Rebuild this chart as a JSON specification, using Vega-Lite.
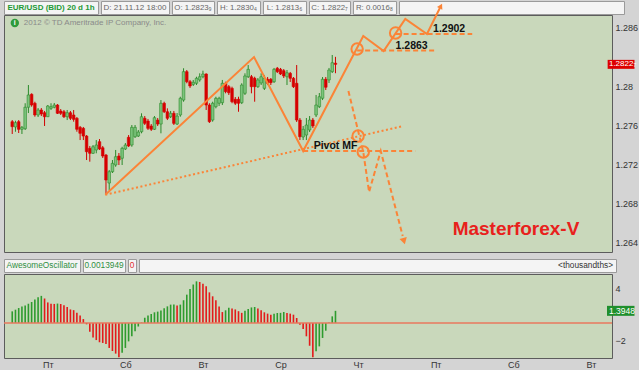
{
"$schema": "https://vega.github.io/schema/vega-lite/v6.json",
"background": "#d4d4d4",
"padding": {"left": 2, "top": 0, "right": 0, "bottom": 0},
"spacing": 5,
"config": {
  "view": {"stroke": "#5c5c5c", "strokeWidth": 1, "fill": "#c9d8bb"},
  "font": "Liberation Sans",
  "axis": {"labelFont": "Liberation Sans", "labelFontSize": 9, "labelColor": "#333333", "grid": false, "domain": false, "ticks": false}
},
"datasets": {
  "candles": [
    {"n":1,"o":1.27639,"h":1.27656,"l":1.27513,"c":1.27588},
    {"n":2,"o":1.27585,"h":1.27649,"l":1.27536,"c":1.27629},
    {"n":3,"o":1.27639,"h":1.27656,"l":1.27523,"c":1.27561},
    {"n":4,"o":1.27561,"h":1.27595,"l":1.27513,"c":1.27581},
    {"n":5,"o":1.27567,"h":1.27828,"l":1.27554,"c":1.27787},
    {"n":6,"o":1.27787,"h":1.28015,"l":1.27728,"c":1.27913},
    {"n":7,"o":1.2792,"h":1.2793,"l":1.27793,"c":1.2781},
    {"n":8,"o":1.27828,"h":1.27844,"l":1.2769,"c":1.27708},
    {"n":9,"o":1.27708,"h":1.27779,"l":1.27687,"c":1.27759},
    {"n":10,"o":1.27759,"h":1.27779,"l":1.27697,"c":1.27718},
    {"n":11,"o":1.27731,"h":1.27749,"l":1.27595,"c":1.2769},
    {"n":12,"o":1.2769,"h":1.2781,"l":1.27687,"c":1.278},
    {"n":13,"o":1.27776,"h":1.27828,"l":1.27759,"c":1.27793},
    {"n":14,"o":1.27787,"h":1.27831,"l":1.27776,"c":1.2781},
    {"n":15,"o":1.2781,"h":1.2782,"l":1.27718,"c":1.27725},
    {"n":16,"o":1.27749,"h":1.27769,"l":1.27708,"c":1.27725},
    {"n":17,"o":1.27741,"h":1.27759,"l":1.27677,"c":1.2769},
    {"n":18,"o":1.2769,"h":1.27759,"l":1.27656,"c":1.27731},
    {"n":19,"o":1.27731,"h":1.27749,"l":1.27656,"c":1.27674},
    {"n":20,"o":1.27708,"h":1.27759,"l":1.27639,"c":1.27663},
    {"n":21,"o":1.27674,"h":1.27687,"l":1.27536,"c":1.27561},
    {"n":22,"o":1.27581,"h":1.27595,"l":1.27451,"c":1.2752},
    {"n":23,"o":1.27571,"h":1.27585,"l":1.27451,"c":1.27492},
    {"n":24,"o":1.27492,"h":1.27502,"l":1.27246,"c":1.27331},
    {"n":25,"o":1.27366,"h":1.2739,"l":1.27229,"c":1.27315},
    {"n":26,"o":1.27315,"h":1.274,"l":1.27308,"c":1.27382},
    {"n":27,"o":1.27349,"h":1.27451,"l":1.27315,"c":1.274},
    {"n":28,"o":1.27434,"h":1.27461,"l":1.27349,"c":1.27359},
    {"n":29,"o":1.27372,"h":1.2739,"l":1.27267,"c":1.27287},
    {"n":30,"o":1.27297,"h":1.27308,"l":1.26897,"c":1.27041},
    {"n":31,"o":1.2701,"h":1.27144,"l":1.26938,"c":1.27126},
    {"n":32,"o":1.27126,"h":1.27246,"l":1.27113,"c":1.27212},
    {"n":33,"o":1.27195,"h":1.27349,"l":1.27177,"c":1.2728},
    {"n":34,"o":1.27287,"h":1.27318,"l":1.27195,"c":1.27246},
    {"n":35,"o":1.27264,"h":1.27382,"l":1.27195,"c":1.27366},
    {"n":36,"o":1.27359,"h":1.2742,"l":1.27349,"c":1.274},
    {"n":37,"o":1.27479,"h":1.27502,"l":1.27379,"c":1.2739},
    {"n":38,"o":1.274,"h":1.27605,"l":1.27382,"c":1.27581},
    {"n":39,"o":1.27485,"h":1.27605,"l":1.27472,"c":1.27581},
    {"n":40,"o":1.27492,"h":1.27554,"l":1.27482,"c":1.27533},
    {"n":41,"o":1.27536,"h":1.27725,"l":1.2752,"c":1.2769},
    {"n":42,"o":1.27674,"h":1.27697,"l":1.27605,"c":1.27622},
    {"n":43,"o":1.27646,"h":1.27667,"l":1.27554,"c":1.27571},
    {"n":44,"o":1.27595,"h":1.27615,"l":1.27544,"c":1.27561},
    {"n":45,"o":1.27561,"h":1.27697,"l":1.27554,"c":1.2768},
    {"n":46,"o":1.27656,"h":1.27677,"l":1.27595,"c":1.27615},
    {"n":47,"o":1.27615,"h":1.27861,"l":1.2752,"c":1.27828},
    {"n":48,"o":1.27828,"h":1.27844,"l":1.27728,"c":1.27741},
    {"n":49,"o":1.27741,"h":1.27776,"l":1.27656,"c":1.27674},
    {"n":50,"o":1.2769,"h":1.27749,"l":1.27677,"c":1.27725},
    {"n":51,"o":1.27725,"h":1.27749,"l":1.27605,"c":1.27622},
    {"n":52,"o":1.27615,"h":1.27728,"l":1.27605,"c":1.27697},
    {"n":53,"o":1.27708,"h":1.27895,"l":1.2769,"c":1.27879},
    {"n":54,"o":1.27861,"h":1.28187,"l":1.27844,"c":1.28152},
    {"n":55,"o":1.28152,"h":1.28169,"l":1.28033,"c":1.28049},
    {"n":56,"o":1.28049,"h":1.28067,"l":1.27985,"c":1.28005},
    {"n":57,"o":1.28022,"h":1.28067,"l":1.28005,"c":1.28043},
    {"n":58,"o":1.28033,"h":1.281,"l":1.28015,"c":1.28084},
    {"n":59,"o":1.28067,"h":1.28135,"l":1.28049,"c":1.281},
    {"n":60,"o":1.281,"h":1.28162,"l":1.28084,"c":1.28128},
    {"n":61,"o":1.28128,"h":1.28135,"l":1.27759,"c":1.2781},
    {"n":62,"o":1.2781,"h":1.27828,"l":1.27626,"c":1.27639},
    {"n":63,"o":1.27656,"h":1.27844,"l":1.27639,"c":1.27828},
    {"n":64,"o":1.27793,"h":1.27895,"l":1.27776,"c":1.27879},
    {"n":65,"o":1.27828,"h":1.27895,"l":1.278,"c":1.27879},
    {"n":66,"o":1.27834,"h":1.28067,"l":1.2781,"c":1.28033},
    {"n":67,"o":1.28033,"h":1.28049,"l":1.2793,"c":1.27947},
    {"n":68,"o":1.27998,"h":1.28015,"l":1.27913,"c":1.27936},
    {"n":69,"o":1.27981,"h":1.27998,"l":1.27828,"c":1.27844},
    {"n":70,"o":1.27869,"h":1.27892,"l":1.2781,"c":1.27828},
    {"n":71,"o":1.27869,"h":1.27895,"l":1.27741,"c":1.27828},
    {"n":72,"o":1.27834,"h":1.28033,"l":1.2782,"c":1.28015},
    {"n":73,"o":1.2793,"h":1.28135,"l":1.27913,"c":1.28108},
    {"n":74,"o":1.281,"h":1.2822,"l":1.28087,"c":1.28176},
    {"n":75,"o":1.281,"h":1.28118,"l":1.2793,"c":1.27998},
    {"n":76,"o":1.28084,"h":1.281,"l":1.27844,"c":1.27998},
    {"n":77,"o":1.27998,"h":1.28087,"l":1.27985,"c":1.28067},
    {"n":78,"o":1.28036,"h":1.28135,"l":1.28015,"c":1.281},
    {"n":79,"o":1.27981,"h":1.28118,"l":1.27964,"c":1.28084},
    {"n":80,"o":1.28074,"h":1.28097,"l":1.28015,"c":1.28033},
    {"n":81,"o":1.28074,"h":1.28087,"l":1.28015,"c":1.28039},
    {"n":82,"o":1.28049,"h":1.2819,"l":1.28036,"c":1.28176},
    {"n":83,"o":1.28187,"h":1.282,"l":1.28138,"c":1.28152},
    {"n":84,"o":1.28176,"h":1.2819,"l":1.28118,"c":1.28128},
    {"n":85,"o":1.28162,"h":1.28179,"l":1.28087,"c":1.28108},
    {"n":86,"o":1.281,"h":1.28169,"l":1.28015,"c":1.28141},
    {"n":87,"o":1.28135,"h":1.28149,"l":1.28046,"c":1.28084},
    {"n":88,"o":1.28084,"h":1.28097,"l":1.27985,"c":1.27998},
    {"n":89,"o":1.28033,"h":1.2822,"l":1.27636,"c":1.27656},
    {"n":90,"o":1.27656,"h":1.27677,"l":1.27451,"c":1.27485},
    {"n":91,"o":1.27482,"h":1.27595,"l":1.27451,"c":1.27561},
    {"n":92,"o":1.27502,"h":1.27677,"l":1.27451,"c":1.27605},
    {"n":93,"o":1.27554,"h":1.27697,"l":1.27533,"c":1.27656},
    {"n":94,"o":1.27656,"h":1.27677,"l":1.27574,"c":1.27595},
    {"n":95,"o":1.27708,"h":1.27913,"l":1.27687,"c":1.2781},
    {"n":96,"o":1.27793,"h":1.27933,"l":1.27779,"c":1.27895},
    {"n":97,"o":1.27879,"h":1.28097,"l":1.27861,"c":1.28074},
    {"n":98,"o":1.28074,"h":1.28097,"l":1.27964,"c":1.27992},
    {"n":99,"o":1.28067,"h":1.2819,"l":1.28036,"c":1.28169},
    {"n":100,"o":1.28152,"h":1.28323,"l":1.28138,"c":1.28244},
    {"n":101,"o":1.28239,"h":1.28304,"l":1.28136,"c":1.28227}
  ],
  "ao": [
    {"n":1,"v":1.33,"d":"u"},{"n":2,"v":1.52,"d":"u"},{"n":3,"v":1.71,"d":"u"},{"n":4,"v":1.9,"d":"u"},{"n":5,"v":2.0,"d":"u"},
    {"n":6,"v":2.2,"d":"u"},{"n":7,"v":2.4,"d":"u"},{"n":8,"v":2.7,"d":"u"},{"n":9,"v":2.95,"d":"u"},{"n":10,"v":3.1,"d":"u"},
    {"n":11,"v":2.8,"d":"d"},{"n":12,"v":2.35,"d":"d"},{"n":13,"v":2.2,"d":"d"},{"n":14,"v":2.18,"d":"d"},{"n":15,"v":2.22,"d":"u"},
    {"n":16,"v":2.17,"d":"d"},{"n":17,"v":2.02,"d":"d"},{"n":18,"v":1.82,"d":"d"},{"n":19,"v":1.55,"d":"d"},{"n":20,"v":1.47,"d":"d"},
    {"n":21,"v":1.18,"d":"d"},{"n":22,"v":0.85,"d":"d"},{"n":23,"v":0.45,"d":"d"},{"n":24,"v":-0.15,"d":"d"},{"n":25,"v":-1.0,"d":"d"},
    {"n":26,"v":-1.65,"d":"d"},{"n":27,"v":-1.95,"d":"d"},{"n":28,"v":-2.2,"d":"d"},{"n":29,"v":-2.28,"d":"d"},{"n":30,"v":-2.4,"d":"d"},
    {"n":31,"v":-2.85,"d":"d"},{"n":32,"v":-3.2,"d":"d"},{"n":33,"v":-3.5,"d":"d"},{"n":34,"v":-3.9,"d":"d"},{"n":35,"v":-3.4,"d":"u"},
    {"n":36,"v":-2.85,"d":"u"},{"n":37,"v":-2.1,"d":"u"},{"n":38,"v":-1.5,"d":"u"},{"n":39,"v":-0.95,"d":"u"},{"n":40,"v":-0.4,"d":"u"},
    {"n":41,"v":0.05,"d":"u"},{"n":42,"v":0.6,"d":"u"},{"n":43,"v":0.85,"d":"u"},{"n":44,"v":1.03,"d":"u"},{"n":45,"v":1.22,"d":"u"},
    {"n":46,"v":1.3,"d":"u"},{"n":47,"v":1.42,"d":"u"},{"n":48,"v":1.7,"d":"u"},{"n":49,"v":1.9,"d":"u"},{"n":50,"v":2.1,"d":"u"},
    {"n":51,"v":2.12,"d":"u"},{"n":52,"v":2.0,"d":"d"},{"n":53,"v":2.1,"d":"u"},{"n":54,"v":2.6,"d":"u"},{"n":55,"v":3.24,"d":"u"},
    {"n":56,"v":3.9,"d":"u"},{"n":57,"v":4.4,"d":"u"},{"n":58,"v":4.76,"d":"u"},{"n":59,"v":4.69,"d":"d"},{"n":60,"v":4.5,"d":"d"},
    {"n":61,"v":4.19,"d":"d"},{"n":62,"v":3.5,"d":"d"},{"n":63,"v":3.05,"d":"d"},{"n":64,"v":2.6,"d":"d"},{"n":65,"v":1.9,"d":"d"},
    {"n":66,"v":1.25,"d":"d"},{"n":67,"v":1.45,"d":"u"},{"n":68,"v":1.75,"d":"u"},{"n":69,"v":1.65,"d":"d"},{"n":70,"v":1.55,"d":"d"},
    {"n":71,"v":1.35,"d":"d"},{"n":72,"v":1.16,"d":"d"},{"n":73,"v":1.4,"d":"u"},{"n":74,"v":1.6,"d":"u"},{"n":75,"v":1.78,"d":"u"},
    {"n":76,"v":1.83,"d":"u"},{"n":77,"v":1.65,"d":"d"},{"n":78,"v":1.47,"d":"d"},{"n":79,"v":1.22,"d":"d"},{"n":80,"v":1.07,"d":"d"},
    {"n":81,"v":0.95,"d":"d"},{"n":82,"v":1.07,"d":"u"},{"n":83,"v":1.14,"d":"u"},{"n":84,"v":1.16,"d":"u"},{"n":85,"v":1.26,"d":"u"},
    {"n":86,"v":1.14,"d":"d"},{"n":87,"v":1.07,"d":"d"},{"n":88,"v":0.95,"d":"d"},{"n":89,"v":0.57,"d":"d"},{"n":90,"v":-0.19,"d":"d"},
    {"n":91,"v":-0.69,"d":"d"},{"n":92,"v":-1.52,"d":"d"},{"n":93,"v":-2.6,"d":"d"},{"n":94,"v":-3.9,"d":"d"},{"n":95,"v":-3.24,"d":"u"},
    {"n":96,"v":-2.67,"d":"u"},{"n":97,"v":-1.71,"d":"u"},{"n":98,"v":-0.88,"d":"u"},{"n":99,"v":0.05,"d":"u"},{"n":100,"v":0.76,"d":"u"},
    {"n":101,"v":1.39,"d":"u"}
  ],
  "zig": [
    {"h":29.8,"p":1.2689,"o":1},{"h":75.8,"p":1.28302,"o":2},{"h":91.0,"p":1.27338,"o":3},{"h":109.6,"p":1.28518,"o":4},
    {"h":115.9,"p":1.28364,"o":5},{"h":122.6,"p":1.28692,"o":6},{"h":129.3,"p":1.28538,"o":7},{"h":133.3,"p":1.28805,"o":8}
  ],
  "down": [
    {"h":105.0,"p":1.27954,"o":1},{"h":109.6,"p":1.27328,"o":2},{"h":111.4,"p":1.26918,"o":3},{"h":115.0,"p":1.27338,"o":4},{"h":121.8,"p":1.26467,"o":5}
  ],
  "hl": [
    {"h1":107.7,"h2":132.4,"p":1.2837},{"h1":119.6,"h2":143.3,"p":1.28538},{"h1":91.0,"h2":125.7,"p":1.27338}
  ],
  "circ": [
    {"h":107.7,"p":1.28384},{"h":119.6,"p":1.28549},{"h":108.0,"p":1.27492},{"h":109.6,"p":1.27328}
  ],
  "lab": [
    {"h":131.2,"p":1.28592,"t":"1.2902"},{"h":119.6,"p":1.2842,"t":"1.2863"},{"h":94.25,"p":1.2739,"t":"Pivot MF"}
  ]
},
"vconcat": [
  {
    "spacing": -14.5,
    "vconcat": [
      {
        "spacing": 1,
        "hconcat": [
          {"width": 94, "height": 13, "view": {"fill": "#f4f4f4", "stroke": "#9a9a9a"}, "data": {"values": [{"t": "EUR/USD (BID) 20 d 1h"}]}, "mark": {"type": "text", "fontSize": 8, "fontWeight": "bold", "color": "#1e9a36"}, "encoding": {"text": {"field": "t"}}},
          {"width": 68, "height": 13, "view": {"fill": "#f4f4f4", "stroke": "#9a9a9a"}, "data": {"values": [{"t": "D: 21.11.12 18:00"}]}, "mark": {"type": "text", "fontSize": 8, "color": "#666666"}, "encoding": {"text": {"field": "t"}}},
          {"width": 42, "height": 13, "view": {"fill": "#f4f4f4", "stroke": "#9a9a9a"}, "data": {"values": [{"t": "O: 1.2823₉"}]}, "mark": {"type": "text", "fontSize": 7.8, "color": "#666666"}, "encoding": {"text": {"field": "t"}}},
          {"width": 43, "height": 13, "view": {"fill": "#f4f4f4", "stroke": "#9a9a9a"}, "data": {"values": [{"t": "H: 1.2830₄"}]}, "mark": {"type": "text", "fontSize": 7.8, "color": "#666666"}, "encoding": {"text": {"field": "t"}}},
          {"width": 43, "height": 13, "view": {"fill": "#f4f4f4", "stroke": "#9a9a9a"}, "data": {"values": [{"t": "L: 1.2813₆"}]}, "mark": {"type": "text", "fontSize": 7.8, "color": "#666666"}, "encoding": {"text": {"field": "t"}}},
          {"width": 41, "height": 13, "view": {"fill": "#f4f4f4", "stroke": "#9a9a9a"}, "data": {"values": [{"t": "C: 1.2822₇"}]}, "mark": {"type": "text", "fontSize": 7.8, "color": "#666666"}, "encoding": {"text": {"field": "t"}}},
          {"width": 43, "height": 13, "view": {"fill": "#f4f4f4", "stroke": "#9a9a9a"}, "data": {"values": [{"t": "R: 0.0016₈"}]}, "mark": {"type": "text", "fontSize": 7.8, "color": "#666666"}, "encoding": {"text": {"field": "t"}}},
          {"width": 225, "height": 13, "view": {"fill": "#f4f4f4", "stroke": "#9a9a9a"}, "data": {"values": [{"t": ""}]}, "mark": {"type": "text", "fontSize": 8}, "encoding": {"text": {"field": "t"}}}
        ]
      },
      {
        "width": 608,
        "height": 237,
        "layer": [
          {
            "data": {"name": "candles"},
            "mark": {"type": "rule", "strokeWidth": 1},
            "encoding": {
              "x": {"field": "n", "type": "quantitative", "scale": {"domain": [0, 185], "nice": false, "zero": false}, "axis": null},
              "y": {"field": "l", "type": "quantitative", "scale": {"domain": [1.26303, 1.28733], "nice": false, "zero": false},
                    "axis": {"orient": "right", "title": null, "values": [1.264, 1.266, 1.268, 1.27, 1.272, 1.274, 1.276, 1.278, 1.28, 1.284, 1.286], "format": ".4~g", "labelPadding": 3}},
              "y2": {"field": "h"},
              "color": {"condition": {"test": "datum.c >= datum.o", "value": "#2a8a2a"}, "value": "#d10000"}
            }
          },
          {
            "data": {"name": "candles"},
            "mark": {"type": "bar", "width": 2.6, "strokeWidth": 0.6},
            "encoding": {
              "x": {"field": "n", "type": "quantitative"},
              "y": {"field": "o", "type": "quantitative"},
              "y2": {"field": "c"},
              "fill": {"condition": {"test": "datum.c >= datum.o", "value": "#7cc47c"}, "value": "#d60000"},
              "stroke": {"condition": {"test": "datum.c >= datum.o", "value": "#2a8a2a"}, "value": "#d60000"}
            }
          },
          {
            "data": {"values": [{"h1": 29.8, "p1": 1.2689, "h2": 122.0, "p2": 1.27595}]},
            "mark": {"type": "rule", "color": "#fb8437", "strokeWidth": 2, "strokeDash": [2, 2.5]},
            "encoding": {
              "x": {"field": "h1", "type": "quantitative"}, "x2": {"field": "h2"},
              "y": {"field": "p1", "type": "quantitative"}, "y2": {"field": "p2"}
            }
          },
          {
            "data": {"name": "hl"},
            "mark": {"type": "rule", "color": "#fb8437", "strokeWidth": 2, "strokeDash": [5, 3]},
            "encoding": {
              "x": {"field": "h1", "type": "quantitative"}, "x2": {"field": "h2"},
              "y": {"field": "p", "type": "quantitative"}
            }
          },
          {
            "data": {"name": "zig"},
            "mark": {"type": "line", "color": "#fb8437", "strokeWidth": 2},
            "encoding": {
              "x": {"field": "h", "type": "quantitative"},
              "y": {"field": "p", "type": "quantitative"},
              "order": {"field": "o"}
            }
          },
          {
            "data": {"name": "down"},
            "mark": {"type": "line", "color": "#fb8437", "strokeWidth": 2, "strokeDash": [5, 3]},
            "encoding": {
              "x": {"field": "h", "type": "quantitative"},
              "y": {"field": "p", "type": "quantitative"},
              "order": {"field": "o"}
            }
          },
          {
            "data": {"name": "circ"},
            "mark": {"type": "point", "shape": "circle", "filled": false, "size": 130, "strokeWidth": 2, "color": "#fb8437", "opacity": 1},
            "encoding": {
              "x": {"field": "h", "type": "quantitative"},
              "y": {"field": "p", "type": "quantitative"}
            }
          },
          {
            "data": {"values": [{"h": 133.6, "p": 1.28825}]},
            "mark": {"type": "point", "shape": "triangle-up", "filled": true, "size": 36, "angle": 27, "color": "#fb8437", "opacity": 1},
            "encoding": {
              "x": {"field": "h", "type": "quantitative"},
              "y": {"field": "p", "type": "quantitative"}
            }
          },
          {
            "data": {"values": [{"h": 122.2, "p": 1.26415}]},
            "mark": {"type": "point", "shape": "triangle-up", "filled": true, "size": 55, "angle": 165, "color": "#fb8437", "opacity": 1},
            "encoding": {
              "x": {"field": "h", "type": "quantitative"},
              "y": {"field": "p", "type": "quantitative"}
            }
          },
          {
            "data": {"name": "lab"},
            "mark": {"type": "text", "align": "left", "baseline": "middle", "fontSize": 10.5, "fontWeight": "bold", "color": "#111111"},
            "encoding": {
              "x": {"field": "h", "type": "quantitative"},
              "y": {"field": "p", "type": "quantitative"},
              "text": {"field": "t"}
            }
          },
          {
            "data": {"values": [{"h": 137.25, "p": 1.26538, "t": "Masterforex-V"}]},
            "mark": {"type": "text", "align": "left", "baseline": "middle", "fontSize": 19, "fontWeight": "bold", "color": "#e8211c"},
            "encoding": {
              "x": {"field": "h", "type": "quantitative"},
              "y": {"field": "p", "type": "quantitative"},
              "text": {"field": "t"}
            }
          },
          {
            "data": {"values": [{"h": 4.6, "p": 1.28651, "t": "2012 © TD Ameritrade IP Company, Inc."}]},
            "mark": {"type": "text", "align": "left", "baseline": "middle", "fontSize": 8, "color": "#8a8a8a"},
            "encoding": {
              "x": {"field": "h", "type": "quantitative"},
              "y": {"field": "p", "type": "quantitative"},
              "text": {"field": "t"}
            }
          },
          {
            "data": {"values": [{"h": 1.8, "p": 1.28651}]},
            "mark": {"type": "point", "shape": "circle", "filled": true, "size": 70, "color": "#2e9a3c", "opacity": 1},
            "encoding": {
              "x": {"field": "h", "type": "quantitative"},
              "y": {"field": "p", "type": "quantitative"}
            }
          },
          {
            "data": {"values": [{"h": 1.8, "p": 1.28651, "t": "i"}]},
            "mark": {"type": "text", "align": "center", "baseline": "middle", "fontSize": 7, "fontWeight": "bold", "color": "#ffffff"},
            "encoding": {
              "x": {"field": "h", "type": "quantitative"},
              "y": {"field": "p", "type": "quantitative"},
              "text": {"field": "t"}
            }
          },
          {
            "data": {"values": [{"h1": 185.2, "h2": 193.5, "p1": 1.28181, "p2": 1.28273}]},
            "mark": {"type": "rect", "color": "#dd0000"},
            "encoding": {
              "x": {"field": "h1", "type": "quantitative"}, "x2": {"field": "h2"},
              "y": {"field": "p1", "type": "quantitative"}, "y2": {"field": "p2"}
            }
          },
          {
            "data": {"values": [{"h": 185.6, "p": 1.28227, "t": "1.2822₇"}]},
            "mark": {"type": "text", "align": "left", "baseline": "middle", "fontSize": 8, "color": "#ffffff"},
            "encoding": {
              "x": {"field": "h", "type": "quantitative"},
              "y": {"field": "p", "type": "quantitative"},
              "text": {"field": "t"}
            }
          }
        ]
      }
    ]
  },
  {
    "spacing": 0,
    "vconcat": [
      {
        "spacing": 1,
        "hconcat": [
          {"width": 76, "height": 13, "view": {"fill": "#f4f4f4", "stroke": "#9a9a9a"}, "data": {"values": [{"t": "AwesomeOscillator"}]}, "mark": {"type": "text", "fontSize": 8.3, "color": "#2f8f3f"}, "encoding": {"text": {"field": "t"}}},
          {"width": 42, "height": 13, "view": {"fill": "#f4f4f4", "stroke": "#9a9a9a"}, "data": {"values": [{"t": "0.0013949"}]}, "mark": {"type": "text", "fontSize": 8.3, "color": "#2f8f3f"}, "encoding": {"text": {"field": "t"}}},
          {"width": 8, "height": 13, "view": {"fill": "#f4f4f4", "stroke": "#9a9a9a"}, "data": {"values": [{"t": "0"}]}, "mark": {"type": "text", "fontSize": 8.3, "color": "#e03030"}, "encoding": {"text": {"field": "t"}}},
          {"width": 477, "height": 13, "view": {"fill": "#f4f4f4", "stroke": "#9a9a9a"}, "data": {"values": [{"t": "<thousandths>"}]}, "mark": {"type": "text", "fontSize": 8.3, "color": "#333333", "align": "right", "dx": -3}, "encoding": {"text": {"field": "t"}, "x": {"value": "width"}}}
        ]
      },
      {
        "width": 608,
        "height": 84,
        "layer": [
          {
            "data": {"name": "ao"},
            "mark": {"type": "bar", "width": 1.6},
            "encoding": {
              "x": {"field": "n", "type": "quantitative", "scale": {"domain": [0, 185], "nice": false, "zero": false},
                    "axis": {"orient": "bottom", "title": null, "values": [12, 36, 60, 84, 108, 132, 156, 180], "labelExpr": "['Пт','Сб','Вт','Ср','Чт','Пт','Сб','Вт'][round((datum.value-12)/24)]", "labelPadding": 2}},
              "y": {"field": "v", "type": "quantitative", "scale": {"domain": [-4.0, 5.6], "nice": false, "zero": false},
                    "axis": {"orient": "right", "title": null, "values": [-2, 0, 2, 4], "labelPadding": 3}},
              "y2": {"datum": 0},
              "color": {"condition": {"test": "datum.d == 'u'", "value": "#2e9b2e"}, "value": "#e31a1a"}
            }
          },
          {
            "data": {"values": [{"z": 0}]},
            "mark": {"type": "rule", "color": "#e8785e", "strokeWidth": 1.5},
            "encoding": {"y": {"field": "z", "type": "quantitative"}}
          },
          {
            "data": {"values": [{"h1": 185.0, "h2": 193.5, "v1": 0.82, "v2": 1.96}]},
            "mark": {"type": "rect", "color": "#1f8f2c"},
            "encoding": {
              "x": {"field": "h1", "type": "quantitative"}, "x2": {"field": "h2"},
              "y": {"field": "v1", "type": "quantitative"}, "y2": {"field": "v2"}
            }
          },
          {
            "data": {"values": [{"h": 185.6, "v": 1.39, "t": "1.3948"}]},
            "mark": {"type": "text", "align": "left", "baseline": "middle", "fontSize": 8.5, "color": "#ffffff"},
            "encoding": {
              "x": {"field": "h", "type": "quantitative"},
              "y": {"field": "v", "type": "quantitative"},
              "text": {"field": "t"}
            }
          }
        ]
      }
    ]
  }
]
}
